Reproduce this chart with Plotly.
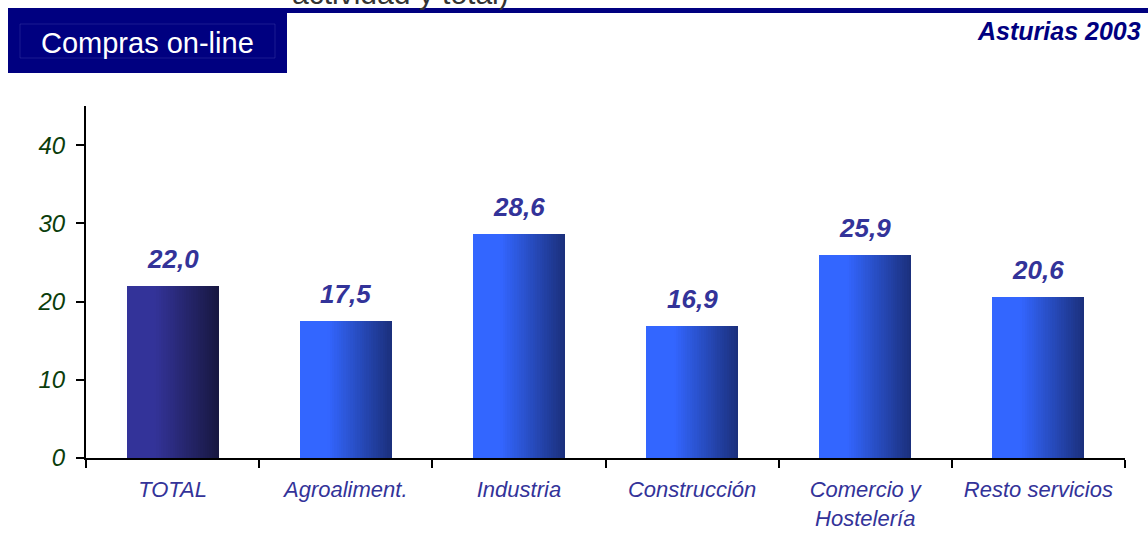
import plotly.graph_objects as go

categories = ["TOTAL", "Agroaliment.", "Industria", "Construcción", "Comercio y<br>Hostelería", "Resto servicios"]
values = [22.0, 17.5, 28.6, 16.9, 25.9, 20.6]
value_labels = ["22,0", "17,5", "28,6", "16,9", "25,9", "20,6"]
y_ticks = [0, 10, 20, 30, 40]

W, H = 1148, 557
L, R, T, B = 86, 23, 106, 99
PW, PH = W - L - R, H - T - B


def px(x):
    return (x - L) / PW


def py(y):
    return (H - B - y) / PH


FONT = "Liberation Sans, Arial"
total_cols = ((51, 51, 153), (24, 24, 66))
other_cols = ((51, 102, 255), (27, 48, 125))


def grad(c, t):
    (a, b) = c
    s = 0 if t < 0.3 else (t - 0.3) / 0.7
    return "rgb(%d,%d,%d)" % tuple(round(a[i] + (b[i] - a[i]) * s) for i in range(3))


BW = 0.532
N = 40
fig = go.Figure()
for i in range(N):
    t = i / (N - 1)
    off = -BW / 2 + BW * i / N
    cols = [grad(total_cols if k == 0 else other_cols, t) for k in range(len(categories))]
    fig.add_trace(go.Bar(
        x=categories, y=values, offset=off, width=BW - BW * i / N,
        marker=dict(color=cols, line=dict(width=0)),
        showlegend=False, hoverinfo="skip",
    ))

for c, v, lab in zip(categories, values, value_labels):
    fig.add_annotation(x=c, y=v, text="<b>%s</b>" % lab, showarrow=False,
                       yanchor="middle", yshift=27,
                       font=dict(family=FONT, size=26, color="#333399", style="italic"))

# header
fig.add_annotation(xref="paper", yref="paper", x=px(290), y=py(-7), text="actividad y total)",
                   showarrow=False, xanchor="left", yanchor="middle",
                   font=dict(family=FONT, size=30, color="#333333"))
fig.add_shape(type="rect", xref="paper", yref="paper", x0=px(8), x1=px(287), y0=py(73), y1=py(8),
              fillcolor="#000080", line=dict(width=0), layer="above")
fig.add_shape(type="rect", xref="paper", yref="paper", x0=px(20), x1=px(275), y0=py(58), y1=py(24),
              fillcolor="rgba(0,0,0,0)", line=dict(width=1, color="rgba(150,150,220,0.18)"), layer="above")
fig.add_shape(type="rect", xref="paper", yref="paper", x0=px(287), x1=px(1148), y0=py(13), y1=py(8),
              fillcolor="#000080", line=dict(width=0), layer="above")

fig.add_annotation(xref="paper", yref="paper", x=px(147), y=py(43), text="Compras on-line",
                   showarrow=False, xanchor="center", yanchor="middle",
                   font=dict(family=FONT, size=29, color="white"))
fig.add_annotation(xref="paper", yref="paper", x=px(1143), y=py(31), text="<b>Asturias 2003</b>",
                   showarrow=False, xanchor="right", yanchor="middle",
                   font=dict(family=FONT, size=25, color="#000080", style="italic"))

fig.update_layout(
    width=W, height=H, barmode="overlay", bargap=0,
    margin=dict(l=L, r=R, t=T, b=B, pad=0),
    paper_bgcolor="white", plot_bgcolor="white",
    xaxis=dict(showline=True, linecolor="black", linewidth=2, ticks="outside", ticklen=8,
               tickwidth=2, tickcolor="black", tickson="boundaries", showgrid=False,
               tickfont=dict(family=FONT, size=22, color="#333399", style="italic"),
               ticklabelstandoff=11),
    yaxis=dict(range=[0, 45], tickvals=y_ticks, showline=True, linecolor="black", linewidth=2,
               ticks="outside", ticklen=8, tickwidth=2, tickcolor="black", showgrid=False,
               zeroline=False,
               tickfont=dict(family=FONT, size=24, color="#0b3d0b", style="italic"),
               ticklabelstandoff=6),
)
fig.write_html("out.html", config={"displayModeBar": False},
               post_script="document.body.style.margin='0';document.body.style.overflow='hidden';")
